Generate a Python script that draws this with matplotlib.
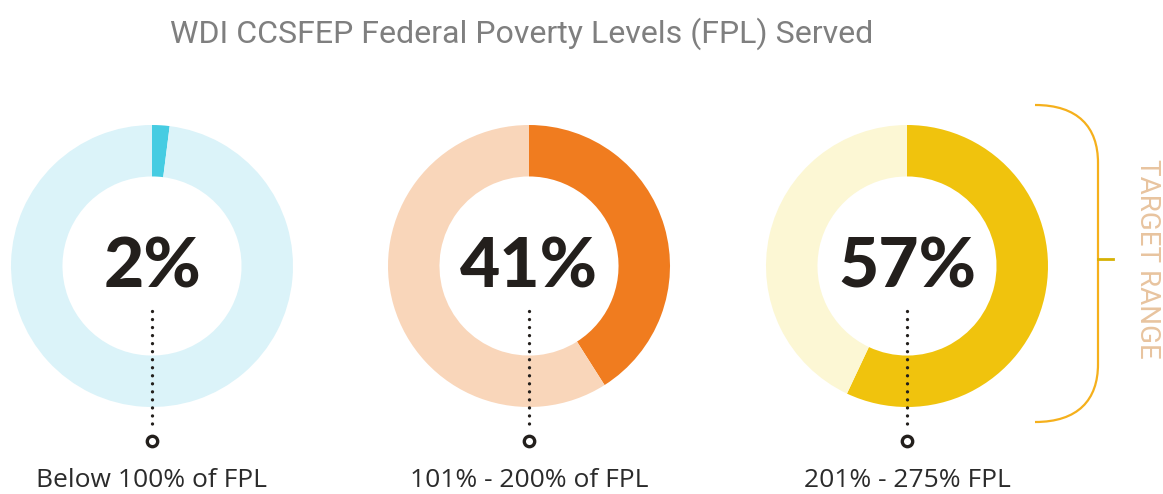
import matplotlib
matplotlib.use("Agg")
import matplotlib.pyplot as plt
from matplotlib.path import Path
from matplotlib.patches import PathPatch

# data ---------------------------------------------------------------
title = "WDI CCSFEP Federal Poverty Levels (FPL) Served"
categories = ["Below 100% of FPL", "101% - 200% of FPL", "201% - 275% FPL"]
served_pct = [2, 41, 57]
dark_colors = ["#46cce2", "#f07c1f", "#f0c30d"]
light_colors = ["#dbf3f9", "#f9d6ba", "#fcf7d4"]
bracket_label = "TARGET RANGE"

# layout (pixel space, y measured from top) --------------------------
W, H = 1163, 494
centers_x = [152, 529, 907]
center_y = 266
r_out = 141
ring_w = 0.365 * r_out


def Y(y):
    return H - y


fig = plt.figure(figsize=(W / 100, H / 100), dpi=100)
ax = fig.add_axes([0, 0, 1, 1])

for cx, pct, dc, lc, lab in zip(centers_x, served_pct, dark_colors, light_colors, categories):
    ax.pie([pct, 100 - pct], colors=[dc, lc], startangle=90, counterclock=False,
           center=(cx, Y(center_y)), radius=r_out,
           wedgeprops=dict(width=ring_w, edgecolor="none", linewidth=0))
    ax.text(cx, Y(268), f"{pct}%", ha="center", va="center", fontsize=50,
            fontweight="black", family="Lato", color="#231f1c")
    # dotted leader + ring marker
    ax.plot([cx, cx], [Y(311), Y(428)], color="#231f1c", lw=2.4,
            linestyle=(0, (0.01, 2.4)), dash_capstyle="round")
    ax.plot([cx], [Y(441)], marker="o", markersize=7.5, markerfacecolor="white",
            markeredgecolor="#231f1c", markeredgewidth=2.4)
    ax.text(cx, Y(480), lab, ha="center", va="center", fontsize=19,
            family="Open Sans", color="#2b2b2b")

ax.text(522, Y(34), title, ha="center", va="center", fontsize=23.1,
        family="Roboto", color="#7f7f7f")

# target range bracket
xv, xl = 1098, 1035
yt, yb = 105, 422
verts = [(xl, Y(yt)), (1078, Y(yt)), (xv, Y(yt + 22)), (xv, Y(yt + 58)),
         (xv, Y(yb - 58)),
         (xv, Y(yb - 22)), (1078, Y(yb)), (xl, Y(yb))]
codes = [Path.MOVETO, Path.CURVE4, Path.CURVE4, Path.CURVE4,
         Path.LINETO,
         Path.CURVE4, Path.CURVE4, Path.CURVE4]
ax.add_patch(PathPatch(Path(verts, codes), fill=False, edgecolor="#f5b01c", lw=1.6))
ax.plot([xv, 1113], [Y(259), Y(259)], color="#d6b104", lw=2)
ax.text(1147, Y(259), bracket_label, rotation=-90, ha="center", va="center",
        fontsize=20, family="Roboto", color="#e8c49f")

ax.set_xlim(0, W)
ax.set_ylim(0, H)
ax.set_aspect("auto")
ax.axis("off")

fig.savefig("out.png", dpi=100, facecolor="white")
